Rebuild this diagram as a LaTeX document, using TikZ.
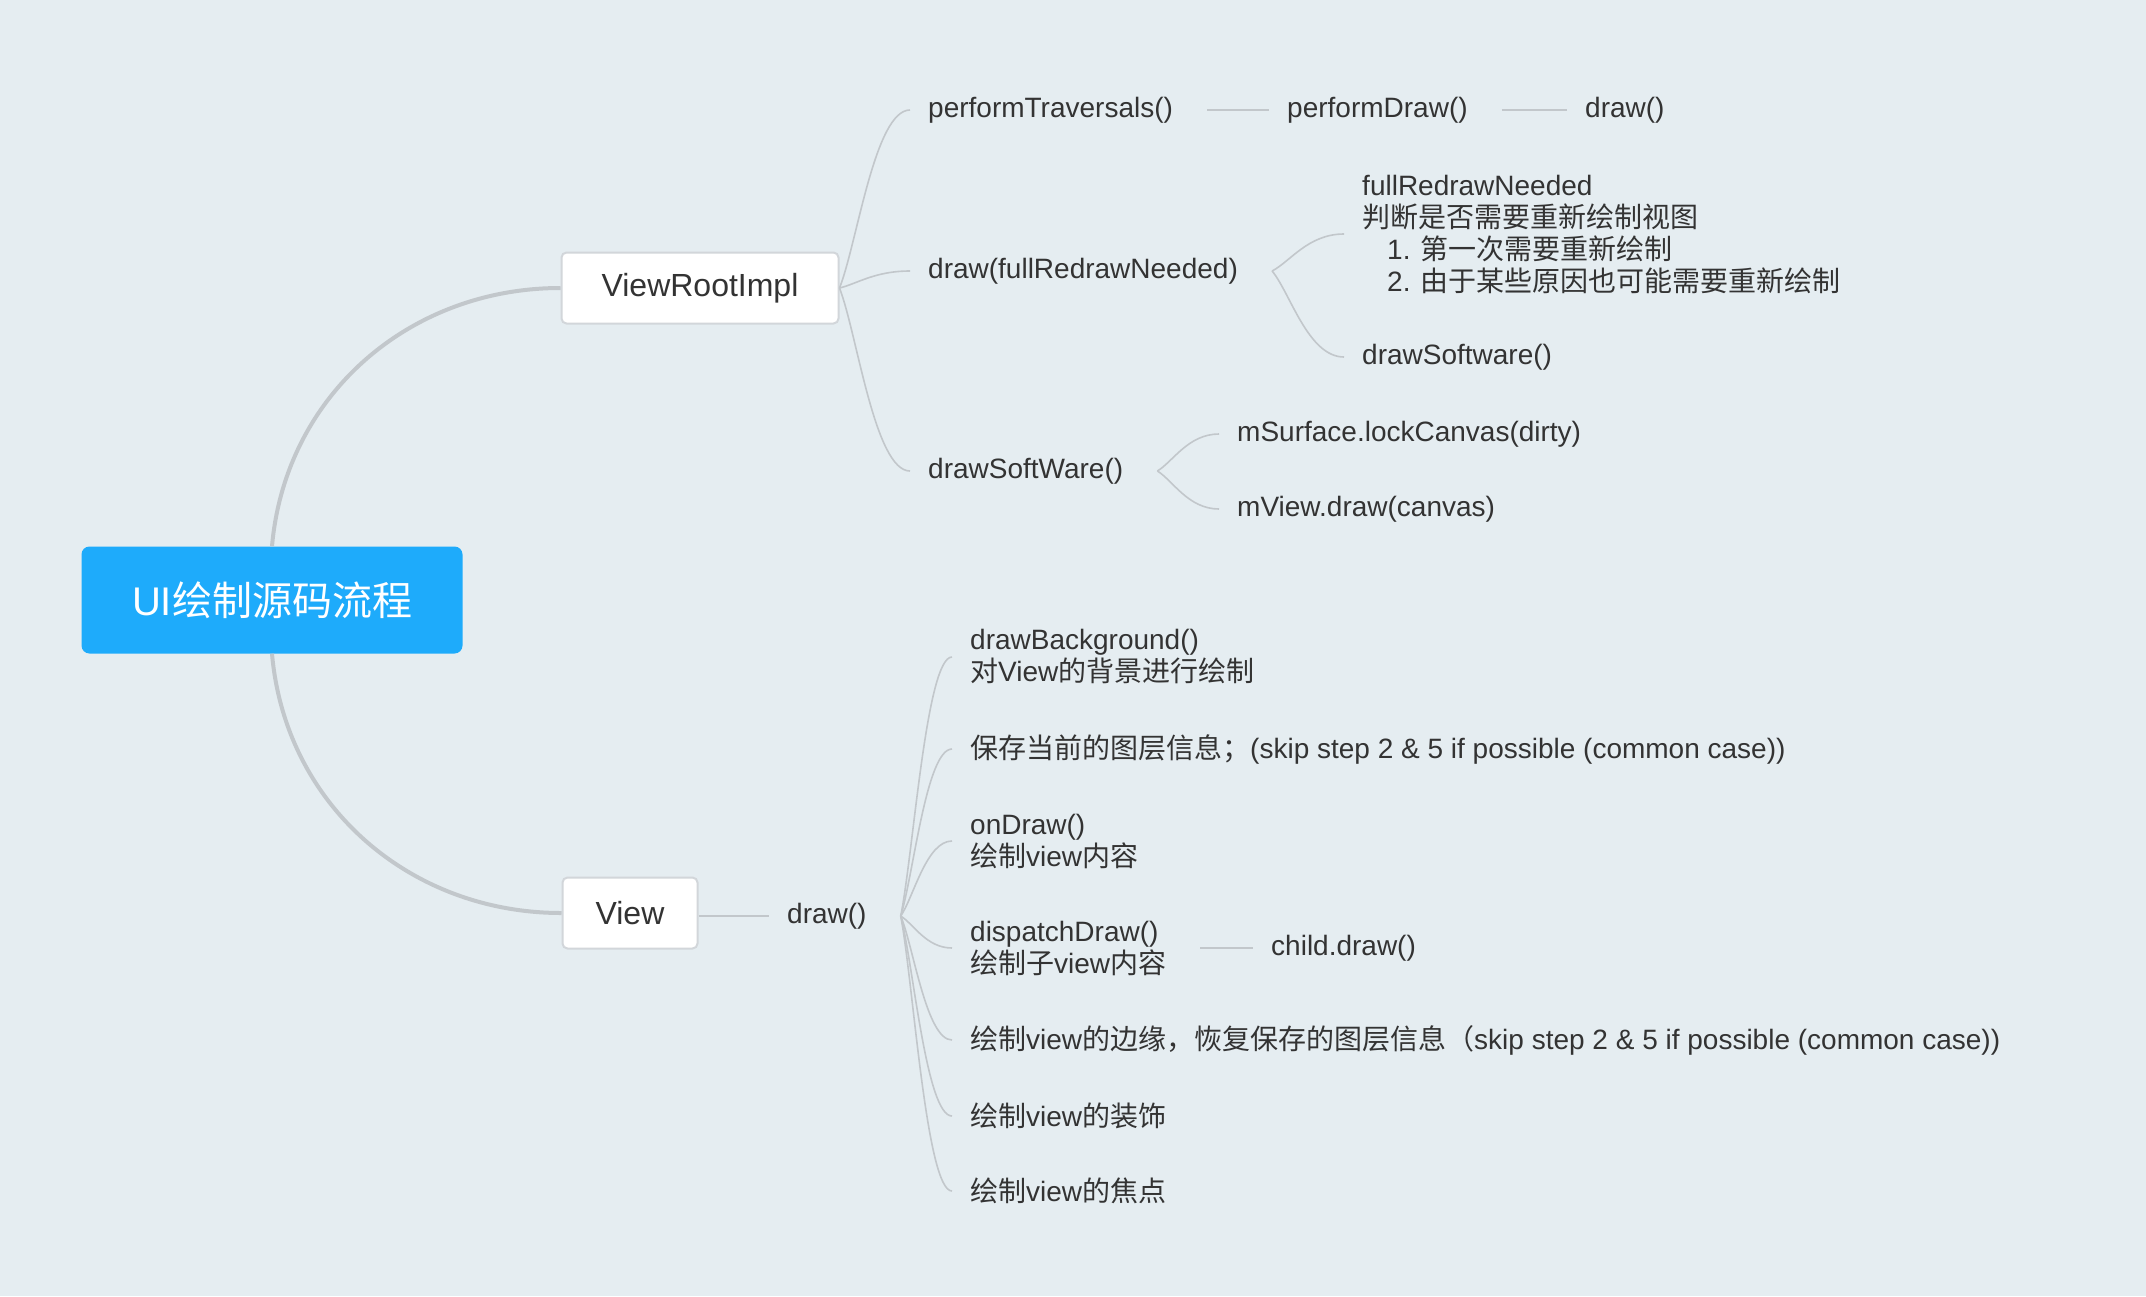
\documentclass[tikz,border=0pt]{standalone}
\usepackage{fontspec}
\setmainfont{Liberation Sans}
\newfontfamily\cjk{Noto Sans CJK SC}
\newcommand{\zh}[1]{{\cjk #1}}
\usetikzlibrary{calc}
\definecolor{bgcol}{HTML}{E5EDF1}
\definecolor{rootblue}{HTML}{1EABFB}
\definecolor{txtgray}{HTML}{333333}
\definecolor{linegray}{HTML}{C2C7CB}
\definecolor{boxgray}{HTML}{D2D6DA}
\tikzset{
  root/.style={fill=rootblue,text=white,rounded corners=8pt,minimum width=381pt,minimum height=107pt,font=\fontsize{40}{46}\selectfont},
  topic/.style={fill=white,draw=boxgray,line width=2pt,rounded corners=5pt,minimum height=71pt,inner xsep=10pt,text=txtgray,font=\fontsize{32}{36}\selectfont},
  leaf/.style={anchor=west,yshift=-3pt,inner xsep=18pt,inner ysep=0pt,text=txtgray,align=left,font=\fontsize{28}{32}\selectfont},
  trunk/.style={draw=linegray,line width=4pt},
  twig/.style={draw=linegray,line width=1.6pt,
    to path={let \p1=(\tikztostart),\p2=(\tikztotarget) in
      .. controls ($(\p1)!0.25!(\p2)$) and ({0.5*\x1+0.5*\x2},\y2) .. (\p2)}}
}
\begin{document}
\begin{tikzpicture}[x=1pt,y=-1pt]
\fill[bgcol] (0,0) rectangle (2146,1296);
\useasboundingbox (0,0) rectangle (2146,1296);

\node[root] (ui) at (272,600) {UI\zh{绘制源码流程}};
\node[topic,minimum width=277pt] (vri) at (700,288) {ViewRootImpl};
\node[topic,minimum width=135pt] (view) at (630,913) {View};

% ViewRootImpl side
\node[leaf] (pt) at (910,107) {performTraversals()};
\node[leaf] (pd) at (1269,107) {performDraw()};
\node[leaf] (dr) at (1567,107) {draw()};
\node[leaf] (dfr) at (910,268) {draw(fullRedrawNeeded)};
\node[leaf] (frn) at (1344,231) {fullRedrawNeeded\\ \zh{判断是否需要重新绘制视图}\\
  \hspace*{25pt}1. \zh{第一次需要重新绘制}\\ \hspace*{25pt}2. \zh{由于某些原因也可能需要重新绘制}};
\node[leaf] (dsoft) at (1344,354) {drawSoftware()};
\node[leaf] (dsw) at (910,468) {drawSoftWare()};
\node[leaf] (lock) at (1219,431) {mSurface.lockCanvas(dirty)};
\node[leaf] (mview) at (1219,506) {mView.draw(canvas)};

% View side
\node[leaf] (vdraw) at (769,913) {draw()};
\node[leaf] (bg) at (952,654) {drawBackground()\\ \zh{对}View\zh{的背景进行绘制}};
\node[leaf] (save) at (952,746) {\zh{保存当前的图层信息；}(skip step 2 \& 5 if possible (common case))};
\node[leaf] (ond) at (952,838) {onDraw()\\ \zh{绘制}view\zh{内容}};
\node[leaf] (disp) at (952,945) {dispatchDraw()\\ \zh{绘制子}view\zh{内容}};
\node[leaf] (child) at (1253,945) {child.draw()};
\node[leaf] (edge) at (952,1037) {\zh{绘制}view\zh{的边缘，恢复保存的图层信息（}skip step 2 \& 5 if possible (common case))};
\node[leaf] (deco) at (952,1113) {\zh{绘制}view\zh{的装饰}};
\node[leaf] (focus) at (952,1188) {\zh{绘制}view\zh{的焦点}};

\draw[trunk] (ui.north) to[out=85,in=180] (vri.west);
\draw[trunk] (ui.south) to[out=-85,in=180] (view.west);

\foreach \k in {pt,dfr,dsw} \draw[twig] (vri.east) to (\k.west);
\draw[twig] ([xshift=16pt]pt.east) to (pd.west);
\draw[twig] ([xshift=16pt]pd.east) to (dr.west);
\draw[twig] ([xshift=16pt]dfr.east) to (frn.west);
\draw[twig] ([xshift=16pt]dfr.east) to (dsoft.west);
\draw[twig] ([xshift=16pt]dsw.east) to (lock.west);
\draw[twig] ([xshift=16pt]dsw.east) to (mview.west);

\draw[twig] ([yshift=-3pt]view.east) to (vdraw.west);
\foreach \k in {bg,save,ond,disp,edge,deco,focus} \draw[twig] ([xshift=16pt]vdraw.east) to (\k.west);
\draw[twig] ([xshift=16pt]disp.east) to (child.west);
\end{tikzpicture}
\end{document}
